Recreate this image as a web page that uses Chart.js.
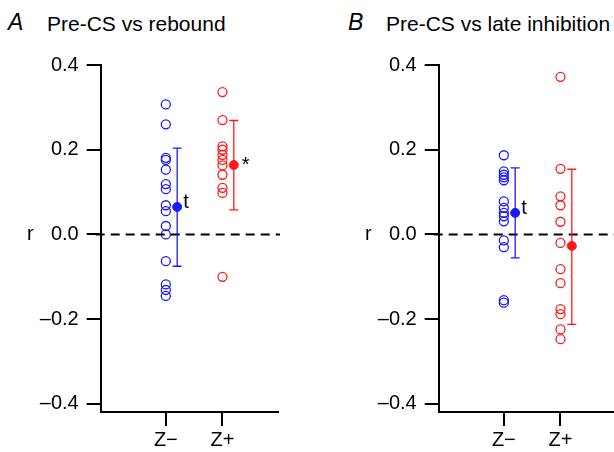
<!DOCTYPE html>
<html>
<head>
<meta charset="utf-8">
<script src="https://cdn.jsdelivr.net/npm/chart.js@4.4.0/dist/chart.umd.min.js"></script>
<style>
  html, body { margin: 0; padding: 0; background: #fff; overflow: hidden; width: 614px; height: 452px; }
  body { position: relative; font-family: 'Liberation Sans', Arial, sans-serif; }
  .panel { position: absolute; top: 0; width: 290px; height: 452px; }
  .letter { position: absolute; top: 9px; font-size: 23px; font-style: italic; }
  .title { position: absolute; top: 12px; font-size: 21px; }
</style>
</head>
<body>
<div class="letter" style="left:8px">A</div>
<div class="title" style="left:47px">Pre-CS vs rebound</div>
<div class="letter" style="left:348px">B</div>
<div class="title" style="left:386px">Pre-CS vs late inhibition</div>
<div class="panel" style="left:0px"><canvas id="chartA" width="290" height="452"></canvas></div>
<div class="panel" style="left:338px"><canvas id="chartB" width="290" height="452"></canvas></div>
<script>
// categories and tick labels
const groups = ['Z\u2212', 'Z+'];
const yTicks = [-0.4, -0.2, 0, 0.2, 0.4];

// Panel A: Pre-CS vs rebound
const aZminus = [0.307, 0.26, 0.181, 0.176, 0.153, 0.119, 0.107, 0.069, 0.055, 0.02, 0.0, -0.063, -0.118, -0.131, -0.145];
const aZplus = [0.336, 0.27, 0.208, 0.2, 0.188, 0.176, 0.163, 0.141, 0.11, 0.098, -0.1];
const aMeans = [0.065, 0.164];
const aLow = [-0.075, 0.058];
const aHigh = [0.204, 0.269];
const aMarks = ['t', '*'];

// Panel B: Pre-CS vs late inhibition
const bZminus = [0.187, 0.149, 0.141, 0.135, 0.128, 0.078, 0.063, 0.051, 0.043, 0.031, -0.014, -0.03, -0.155, -0.161];
const bZplus = [0.372, 0.155, 0.09, 0.069, 0.03, -0.02, -0.082, -0.115, -0.176, -0.188, -0.224, -0.247];
const bMeans = [0.051, -0.027];
const bLow = [-0.055, -0.212];
const bHigh = [0.157, 0.154];
const bMarks = ['t', ''];

const BLUE = '#1a1aff';
const RED = '#ff1a1a';
const FONT = "'Liberation Sans', Arial, sans-serif";
const meanOffset = 0.2;

// error bars, zero line, significance marks and the "r" label
const extrasPlugin = {
  id: 'extras',
  afterDatasetsDraw(chart, args, opts) {
    const { ctx, chartArea, scales: { x, y } } = chart;
    ctx.save();
    // dashed zero line
    const y0 = y.getPixelForValue(0);
    ctx.strokeStyle = '#000';
    ctx.lineWidth = 2;
    ctx.setLineDash([9, 6]);
    ctx.beginPath();
    ctx.moveTo(chartArea.left - 5, y0);
    ctx.lineTo(chartArea.right + 2, y0);
    ctx.stroke();
    ctx.setLineDash([]);

    // error bars
    const colors = [BLUE, RED];
    opts.means.forEach((m, i) => {
      const px = x.getPixelForValue(i + 1 + meanOffset);
      const pLow = y.getPixelForValue(opts.low[i]);
      const pHigh = y.getPixelForValue(opts.high[i]);
      ctx.strokeStyle = colors[i];
      ctx.lineWidth = 1.3;
      ctx.beginPath();
      ctx.moveTo(px, pLow); ctx.lineTo(px, pHigh);
      ctx.moveTo(px - 4.5, pLow); ctx.lineTo(px + 4.5, pLow);
      ctx.moveTo(px - 4.5, pHigh); ctx.lineTo(px + 4.5, pHigh);
      ctx.stroke();

      const mark = opts.marks[i];
      if (mark) {
        const py = y.getPixelForValue(m);
        ctx.fillStyle = '#000';
        ctx.font = `20px ${FONT}`;
        ctx.textAlign = 'left';
        ctx.textBaseline = 'alphabetic';
        if (mark === '*') ctx.fillText(mark, px + 8, py + 6);
        else ctx.fillText(mark, px + 6, py + 1.5);
      }
    });

    // axis name
    ctx.fillStyle = '#000';
    ctx.font = `20px ${FONT}`;
    ctx.textAlign = 'left';
    ctx.textBaseline = 'middle';
    ctx.fillText('r', 27, y0);
    ctx.restore();
  }
};

function makePanel(id, zMinus, zPlus, means, low, high, marks) {
  const ctx = document.getElementById(id);
  return new Chart(ctx, {
    type: 'scatter',
    data: {
      datasets: [
        {
          label: 'Z- cells',
          data: zMinus.map(v => ({ x: 1, y: v })),
          borderColor: BLUE,
          backgroundColor: 'rgba(0,0,0,0)',
          pointRadius: 4.5,
          pointBorderWidth: 1.3
        },
        {
          label: 'Z+ cells',
          data: zPlus.map(v => ({ x: 2, y: v })),
          borderColor: RED,
          backgroundColor: 'rgba(0,0,0,0)',
          pointRadius: 4.5,
          pointBorderWidth: 1.3
        },
        {
          label: 'Mean',
          data: means.map((v, i) => ({ x: i + 1 + meanOffset, y: v })),
          borderColor: [BLUE, RED],
          backgroundColor: [BLUE, RED],
          pointRadius: 4.5,
          pointBorderWidth: 1
        }
      ]
    },
    options: {
      responsive: false,
      animation: false,
      layout: { padding: { top: 65, right: 12, left: 0, bottom: 0 } },
      plugins: {
        legend: { display: false },
        tooltip: { enabled: false },
        extras: { means, low, high, marks }
      },
      scales: {
        x: {
          type: 'linear',
          min: -0.15,
          max: 2.98,
          afterBuildTicks: scale => { scale.ticks = [{ value: 1 }, { value: 2 }]; },
          afterFit: scale => { scale.height = 40; },
          ticks: {
            color: '#000',
            padding: 2,
            font: { size: 20, family: FONT },
            callback: v => groups[v - 1]
          },
          grid: { display: true, drawOnChartArea: false, drawTicks: true, tickLength: 14, color: '#000', lineWidth: 2 },
          border: { display: true, color: '#000', width: 2 }
        },
        y: {
          min: -0.419,
          max: 0.4,
          afterBuildTicks: scale => { scale.ticks = yTicks.map(v => ({ value: v })); },
          afterFit: scale => { scale.width = 100.7; },
          ticks: {
            color: '#000',
            padding: 8,
            font: { size: 20, family: FONT },
            callback: v => (v < 0 ? '\u2013' : '') + Math.abs(v).toFixed(1)
          },
          grid: { display: true, drawOnChartArea: false, drawTicks: true, tickLength: 14, color: '#000', lineWidth: 2 },
          border: { display: true, color: '#000', width: 2 }
        }
      }
    },
    plugins: [extrasPlugin]
  });
}

makePanel('chartA', aZminus, aZplus, aMeans, aLow, aHigh, aMarks);
makePanel('chartB', bZminus, bZplus, bMeans, bLow, bHigh, bMarks);
</script>
</body>
</html>
